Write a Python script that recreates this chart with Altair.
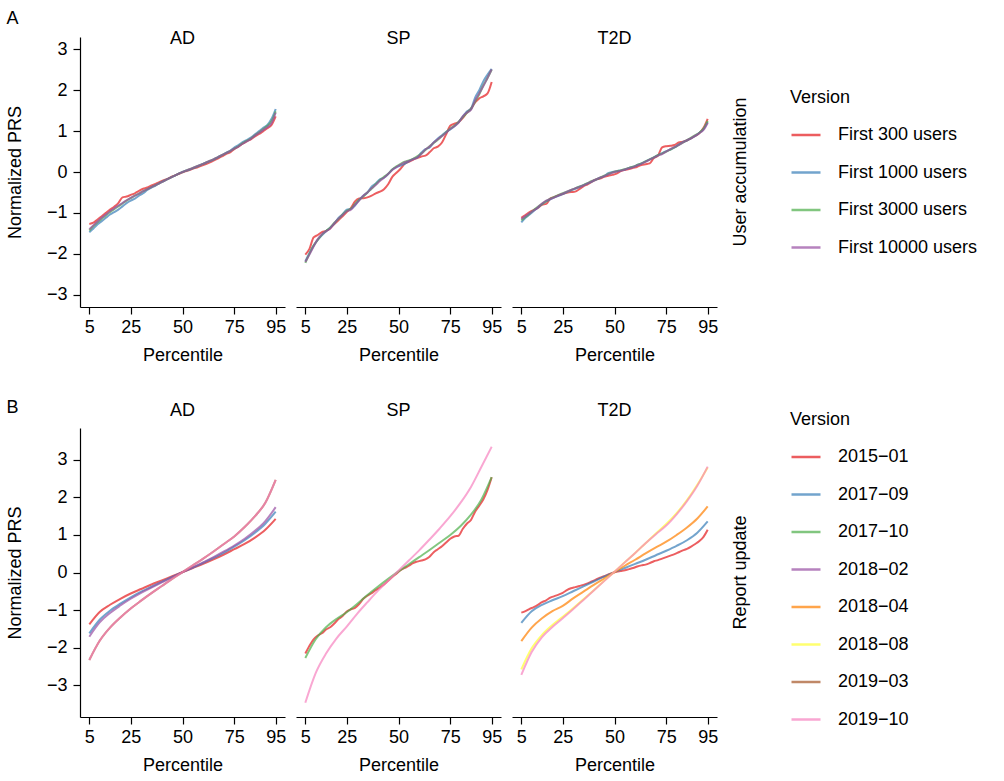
import altair as alt
import pandas as pd

FONT = "Liberation Sans"
FS = 18
MINUS = "\u2212"

DISEASES = ["AD", "SP", "T2D"]
G2 = list(range(5, 96, 2))          # percentile grid of the jagged curves
PCT = [5, 10, 15, 20, 25, 30, 35, 40, 45, 50, 55, 60, 65, 70, 75, 80, 85, 90, 95]
XTICKS = [5, 25, 50, 75, 95]
YTICKS = [-3, -2, -1, 0, 1, 2, 3]

VERSIONS_A = ["First 300 users", "First 1000 users", "First 3000 users", "First 10000 users"]
COLORS_A = ["#E41A1C", "#377EB8", "#4DAF4A", "#984EA3"]
VERSIONS_B = ["2015" + MINUS + "01", "2017" + MINUS + "09", "2017" + MINUS + "10", "2018" + MINUS + "02",
              "2018" + MINUS + "04", "2018" + MINUS + "08", "2019" + MINUS + "03", "2019" + MINUS + "10"]
COLORS_B = ["#E41A1C", "#377EB8", "#4DAF4A", "#984EA3", "#FF7F00", "#FFFF33", "#A65628", "#F781BF"]

# ---------------- Panel A (user accumulation), on grid G2 ----------------
A_AD_300 = [-1.27, -1.24, -1.16, -1.08, -1.00, -0.92, -0.85, -0.76, -0.62, -0.60, -0.56, -0.52, -0.46, -0.41, -0.38, -0.33,
            -0.29, -0.24, -0.20, -0.16, -0.11, -0.07, -0.03, 0.01, 0.04, 0.08, 0.11, 0.15, 0.19, 0.23, 0.28, 0.33,
            0.38, 0.44, 0.48, 0.56, 0.62, 0.69, 0.75, 0.80, 0.87, 0.93, 1.00, 1.07, 1.15, 1.36]
A_AD_1000 = [-1.47, -1.38, -1.28, -1.20, -1.12, -1.04, -0.98, -0.92, -0.84, -0.76, -0.70, -0.65, -0.58, -0.52, -0.44, -0.38,
             -0.33, -0.27, -0.22, -0.17, -0.12, -0.07, -0.02, 0.02, 0.05, 0.09, 0.13, 0.18, 0.22, 0.26, 0.30, 0.36,
             0.41, 0.47, 0.52, 0.60, 0.66, 0.73, 0.78, 0.84, 0.92, 1.00, 1.08, 1.15, 1.30, 1.54]
A_AD_3000 = [-1.43, -1.32, -1.23, -1.14, -1.06, -0.98, -0.91, -0.84, -0.77, -0.70, -0.64, -0.58, -0.53, -0.47, -0.42, -0.37,
             -0.32, -0.27, -0.22, -0.17, -0.12, -0.07, -0.02, 0.02, 0.06, 0.10, 0.14, 0.18, 0.22, 0.27, 0.31, 0.36,
             0.41, 0.46, 0.51, 0.57, 0.63, 0.70, 0.76, 0.82, 0.90, 0.97, 1.05, 1.13, 1.24, 1.48]
A_AD_10000 = [-1.40, -1.30, -1.21, -1.12, -1.04, -0.96, -0.89, -0.82, -0.76, -0.69, -0.63, -0.58, -0.53, -0.47, -0.42, -0.37,
              -0.32, -0.27, -0.22, -0.17, -0.12, -0.07, -0.02, 0.02, 0.06, 0.10, 0.14, 0.18, 0.22, 0.27, 0.31, 0.36,
              0.41, 0.46, 0.51, 0.57, 0.62, 0.69, 0.75, 0.81, 0.89, 0.96, 1.03, 1.10, 1.20, 1.45]

A_SP_300 = [-2.02, -1.88, -1.60, -1.54, -1.47, -1.44, -1.38, -1.27, -1.18, -1.08, -0.98, -0.88, -0.72, -0.65, -0.64, -0.62,
            -0.58, -0.52, -0.48, -0.42, -0.30, -0.12, -0.02, 0.08, 0.20, 0.25, 0.30, 0.34, 0.38, 0.40, 0.48, 0.58,
            0.62, 0.72, 0.92, 1.13, 1.18, 1.22, 1.32, 1.45, 1.55, 1.70, 1.80, 1.85, 1.92, 2.20]
A_SP_1000 = [-2.18, -1.98, -1.80, -1.66, -1.55, -1.45, -1.36, -1.26, -1.12, -1.03, -0.92, -0.90, -0.82, -0.68, -0.58, -0.50,
             -0.36, -0.28, -0.18, -0.14, -0.05, 0.06, 0.12, 0.16, 0.20, 0.26, 0.32, 0.35, 0.47, 0.56, 0.60, 0.72,
             0.82, 0.90, 0.98, 1.04, 1.12, 1.22, 1.35, 1.48, 1.55, 1.82, 2.00, 2.22, 2.38, 2.52]
A_SP_3000 = [-2.22, -2.00, -1.80, -1.66, -1.53, -1.44, -1.36, -1.24, -1.15, -1.04, -0.95, -0.90, -0.78, -0.68, -0.60, -0.50,
             -0.41, -0.30, -0.20, -0.12, -0.04, 0.06, 0.14, 0.20, 0.25, 0.28, 0.32, 0.38, 0.45, 0.54, 0.63, 0.71,
             0.79, 0.88, 0.97, 1.06, 1.13, 1.22, 1.34, 1.44, 1.54, 1.72, 1.90, 2.12, 2.30, 2.50]
A_SP_10000 = [-2.20, -2.02, -1.82, -1.64, -1.52, -1.45, -1.38, -1.25, -1.14, -1.05, -0.96, -0.92, -0.80, -0.70, -0.58, -0.50,
              -0.40, -0.32, -0.22, -0.14, -0.05, 0.05, 0.12, 0.18, 0.24, 0.27, 0.31, 0.36, 0.44, 0.55, 0.62, 0.72,
              0.80, 0.88, 0.96, 1.05, 1.12, 1.20, 1.36, 1.45, 1.52, 1.75, 1.92, 2.10, 2.30, 2.51]

A_T2D_300 = [-1.12, -1.05, -0.98, -0.93, -0.88, -0.80, -0.78, -0.65, -0.61, -0.57, -0.54, -0.51, -0.49, -0.48, -0.42, -0.35,
             -0.30, -0.24, -0.19, -0.16, -0.12, -0.09, -0.07, -0.04, 0.02, 0.05, 0.07, 0.10, 0.13, 0.17, 0.19, 0.21,
             0.34, 0.40, 0.60, 0.63, 0.64, 0.66, 0.72, 0.74, 0.77, 0.82, 0.88, 0.95, 1.08, 1.30]
A_T2D_1000 = [-1.23, -1.12, -1.04, -0.95, -0.87, -0.79, -0.72, -0.67, -0.62, -0.58, -0.54, -0.49, -0.45, -0.41, -0.36, -0.32,
              -0.28, -0.24, -0.19, -0.14, -0.10, -0.03, 0.00, 0.02, 0.04, 0.06, 0.10, 0.13, 0.17, 0.21, 0.26, 0.31,
              0.36, 0.41, 0.46, 0.51, 0.55, 0.60, 0.67, 0.73, 0.77, 0.82, 0.88, 0.96, 1.05, 1.22]
A_T2D_3000 = [-1.18, -1.10, -1.02, -0.93, -0.85, -0.78, -0.71, -0.65, -0.61, -0.56, -0.52, -0.48, -0.44, -0.40, -0.36, -0.32,
              -0.27, -0.22, -0.18, -0.14, -0.09, -0.05, -0.01, 0.02, 0.04, 0.07, 0.10, 0.13, 0.17, 0.21, 0.26, 0.31,
              0.36, 0.41, 0.45, 0.50, 0.55, 0.60, 0.66, 0.72, 0.78, 0.84, 0.90, 0.96, 1.06, 1.25]
A_T2D_10000 = [-1.15, -1.08, -1.01, -0.94, -0.86, -0.77, -0.70, -0.66, -0.62, -0.57, -0.53, -0.48, -0.44, -0.40, -0.37, -0.33,
               -0.28, -0.23, -0.18, -0.14, -0.10, -0.06, -0.02, 0.01, 0.03, 0.06, 0.09, 0.12, 0.16, 0.20, 0.25, 0.30,
               0.35, 0.40, 0.44, 0.50, 0.56, 0.61, 0.66, 0.72, 0.78, 0.83, 0.89, 0.95, 1.03, 1.20]

# ---------------- Panel B (report update) ----------------
# smooth curves on PCT
B_AD_1501 = [-1.38, -1.05, -0.86, -0.70, -0.56, -0.44, -0.32, -0.21, -0.10, 0.01, 0.12, 0.23, 0.35, 0.48, 0.62, 0.76, 0.93, 1.14, 1.43]
B_AD_1709 = [-1.62, -1.26, -1.02, -0.83, -0.66, -0.51, -0.38, -0.25, -0.12, 0.01, 0.13, 0.26, 0.39, 0.53, 0.69, 0.86, 1.06, 1.30, 1.62]
B_AD_1802 = [-1.71, -1.33, -1.08, -0.88, -0.70, -0.54, -0.40, -0.26, -0.13, 0.01, 0.14, 0.27, 0.41, 0.56, 0.72, 0.90, 1.11, 1.37, 1.74]
B_AD_1903 = [-2.33, -1.82, -1.47, -1.20, -0.96, -0.75, -0.55, -0.36, -0.17, 0.01, 0.19, 0.37, 0.56, 0.76, 0.96, 1.21, 1.50, 1.86, 2.47]
B_AD_1910 = [-2.33, -1.82, -1.47, -1.20, -0.96, -0.75, -0.55, -0.36, -0.17, 0.01, 0.19, 0.37, 0.56, 0.76, 0.96, 1.21, 1.50, 1.86, 2.47]

B_SP_1710 = [-2.28, -1.78, -1.46, -1.24, -1.06, -0.84, -0.60, -0.38, -0.17, 0.03, 0.22, 0.41, 0.60, 0.80, 1.00, 1.24, 1.54, 1.94, 2.54]
B_SP_1910 = [-3.47, -2.68, -2.16, -1.76, -1.44, -1.10, -0.79, -0.49, -0.22, 0.05, 0.32, 0.59, 0.88, 1.18, 1.50, 1.86, 2.28, 2.81, 3.35]

B_T2D_1709 = [-1.34, -1.03, -0.86, -0.74, -0.63, -0.50, -0.37, -0.24, -0.11, 0.01, 0.12, 0.23, 0.34, 0.46, 0.58, 0.71, 0.86, 1.06, 1.36]
B_T2D_1804 = [-1.83, -1.47, -1.22, -1.03, -0.89, -0.69, -0.51, -0.33, -0.16, 0.01, 0.18, 0.34, 0.51, 0.67, 0.82, 1.00, 1.20, 1.44, 1.76]
B_T2D_1808 = [-2.58, -2.02, -1.66, -1.40, -1.18, -0.95, -0.71, -0.47, -0.22, 0.02, 0.27, 0.52, 0.78, 1.04, 1.29, 1.58, 1.93, 2.34, 2.80]
B_T2D_1910 = [-2.73, -2.12, -1.72, -1.45, -1.22, -0.98, -0.73, -0.48, -0.23, 0.02, 0.27, 0.52, 0.78, 1.02, 1.25, 1.55, 1.90, 2.31, 2.82]

# jagged curves on G2
B_SP_1501 = [-2.16, -1.95, -1.78, -1.68, -1.62, -1.52, -1.46, -1.36, -1.24, -1.16, -1.04, -0.98, -0.94, -0.84, -0.70, -0.62,
             -0.55, -0.47, -0.40, -0.32, -0.22, -0.12, -0.03, 0.06, 0.12, 0.18, 0.25, 0.29, 0.32, 0.35, 0.42, 0.54,
             0.62, 0.70, 0.80, 0.90, 0.96, 0.98, 1.16, 1.30, 1.40, 1.62, 1.78, 1.95, 2.20, 2.54]
B_T2D_1501 = [-1.07, -1.03, -0.97, -0.92, -0.86, -0.79, -0.74, -0.67, -0.63, -0.59, -0.54, -0.47, -0.42, -0.39, -0.36, -0.33,
              -0.29, -0.24, -0.19, -0.14, -0.10, -0.05, -0.01, 0.02, 0.04, 0.06, 0.09, 0.12, 0.16, 0.19, 0.21, 0.25,
              0.30, 0.33, 0.37, 0.41, 0.45, 0.49, 0.54, 0.59, 0.63, 0.69, 0.76, 0.84, 0.95, 1.14]


def rows(grp, disease, version, xs, ys):
    return [{"grp": grp, "disease": disease, "version": version, "p": x, "v": y} for x, y in zip(xs, ys)]


recA = []
for d, series in [("AD", [A_AD_300, A_AD_1000, A_AD_3000, A_AD_10000]),
                  ("SP", [A_SP_300, A_SP_1000, A_SP_3000, A_SP_10000]),
                  ("T2D", [A_T2D_300, A_T2D_1000, A_T2D_3000, A_T2D_10000])]:
    for ver, ys in zip(VERSIONS_A, series):
        recA += rows("User accumulation", d, ver, G2, ys)
dfA = pd.DataFrame(recA)

recB = []
recB += rows("Report update", "AD", VERSIONS_B[0], PCT, B_AD_1501)
recB += rows("Report update", "AD", VERSIONS_B[1], PCT, B_AD_1709)
recB += rows("Report update", "AD", VERSIONS_B[3], PCT, B_AD_1802)
recB += rows("Report update", "AD", VERSIONS_B[6], PCT, B_AD_1903)
recB += rows("Report update", "AD", VERSIONS_B[7], PCT, B_AD_1910)
recB += rows("Report update", "SP", VERSIONS_B[0], G2, B_SP_1501)
recB += rows("Report update", "SP", VERSIONS_B[2], PCT, B_SP_1710)
recB += rows("Report update", "SP", VERSIONS_B[7], PCT, B_SP_1910)
recB += rows("Report update", "T2D", VERSIONS_B[0], G2, B_T2D_1501)
recB += rows("Report update", "T2D", VERSIONS_B[1], PCT, B_T2D_1709)
recB += rows("Report update", "T2D", VERSIONS_B[4], PCT, B_T2D_1804)
recB += rows("Report update", "T2D", VERSIONS_B[5], PCT, B_T2D_1808)
recB += rows("Report update", "T2D", VERSIONS_B[7], PCT, B_T2D_1910)
dfB = pd.DataFrame(recB)


def make_row(df, versions, colors, ydom, height, letter, header_pad, title_offset, leg_x, leg_y):
    base = alt.Chart(df).mark_line(strokeWidth=2, opacity=0.7, interpolate="monotone").encode(
        x=alt.X("p:Q", title="Percentile",
                scale=alt.Scale(domain=[0.5, 99.5], nice=False, zero=False),
                axis=alt.Axis(values=XTICKS)),
        y=alt.Y("v:Q", title="Normalized PRS",
                scale=alt.Scale(domain=ydom, nice=False, zero=False),
                axis=alt.Axis(values=YTICKS)),
        color=alt.Color("version:N", sort=versions,
                        scale=alt.Scale(domain=versions, range=colors),
                        legend=alt.Legend(title="Version", orient="none", legendX=leg_x, legendY=leg_y)),
    ).properties(width=205, height=height)
    return base.facet(
        row=alt.Row("grp:N", header=alt.Header(title=None, labelOrient="right", labelAngle=270,
                                               labelFontSize=FS, labelFont=FONT, labelColor="black",
                                               labelPadding=15)),
        column=alt.Column("disease:N", sort=DISEASES,
                          header=alt.Header(title=None, labelFontSize=FS, labelFont=FONT,
                                            labelColor="black", labelPadding=header_pad)),
        spacing=11,
    ).properties(title=alt.TitleParams(letter, anchor="start", fontSize=FS, font=FONT,
                                       fontWeight="normal", color="black", frame="bounds",
                                       offset=title_offset))


rowA = make_row(dfA, VERSIONS_A, COLORS_A, [-3.3, 3.3], 270, "A", -11, 2, 710, 52)
rowB = make_row(dfB, VERSIONS_B, COLORS_B, [-3.85, 3.85], 289, "B", 8, -15, 710, -17)

chart = alt.vconcat(rowA, rowB, spacing=35).resolve_scale(
    x="independent", y="independent", color="independent"
).configure_axis(
    grid=False, labelFontSize=FS, titleFontSize=FS, labelFont=FONT, titleFont=FONT,
    titleFontWeight="normal", labelColor="black", titleColor="black",
    domainColor="black", tickColor="black", tickSize=7, domainWidth=1.2, tickWidth=1.2,
    labelPadding=4, titlePadding=10,
).configure_axisY(titlePadding=22, labelPadding=6).configure_view(stroke=None).configure_legend(
    titleFontSize=FS, labelFontSize=FS, titleFont=FONT, labelFont=FONT, titleFontWeight="normal",
    titleColor="black", labelColor="black", symbolType="stroke", symbolSize=841,
    symbolStrokeWidth=2.5, rowPadding=12.5, labelOffset=16, titlePadding=12,
).properties(padding={"left": 6, "top": 10, "right": 5, "bottom": 0}, background="white")

chart.save("out.html", embed_options={"renderer": "svg", "actions": False})
